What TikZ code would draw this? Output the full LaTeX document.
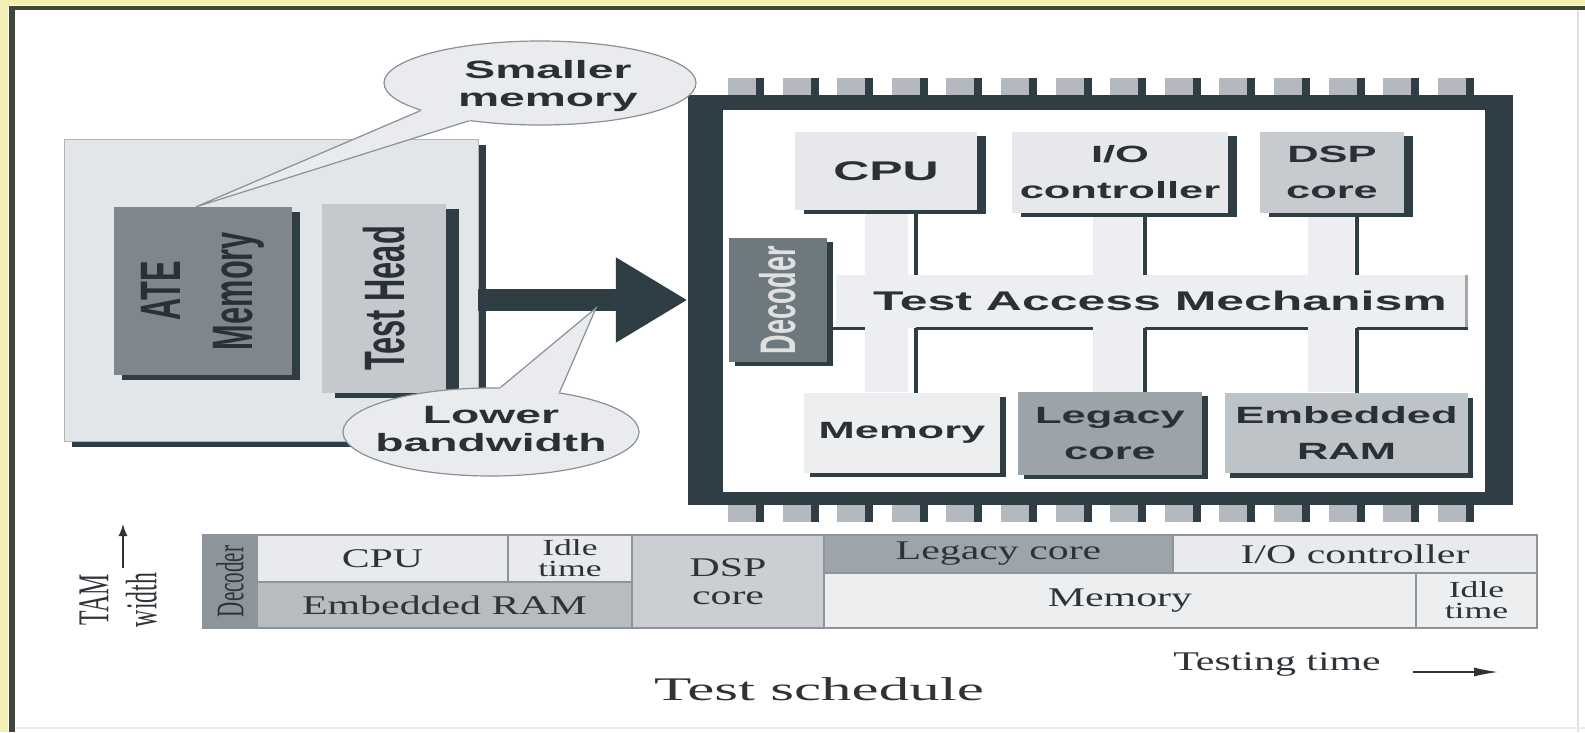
\documentclass[tikz,border=0pt]{standalone}
\usepackage{fontspec}
\setmainfont{Liberation Serif}
\newfontfamily\chipsans[FakeStretch=1.85]{Liberation Sans}
\newfontfamily\rotsans[FakeStretch=0.54]{Liberation Sans}
\newfontfamily\schedserif[FakeStretch=1.55]{Liberation Serif}
\newfontfamily\titleserif[FakeStretch=1.85]{Liberation Serif}
\newfontfamily\rotserif[FakeStretch=0.54]{Liberation Serif}
\usetikzlibrary{shadows,arrows.meta,calc,shapes.geometric}

\definecolor{dkc}{HTML}{2F3E45}
\definecolor{ateback}{HTML}{E3E6E9}
\definecolor{atememc}{HTML}{7E878E}
\definecolor{theadc}{HTML}{C5C9CE}
\definecolor{callfill}{HTML}{E9EBEE}
\definecolor{callline}{HTML}{8A9096}
\definecolor{lightbox}{HTML}{E6E8EB}
\definecolor{dspc}{HTML}{C7CBD0}
\definecolor{decc}{HTML}{6E787F}
\definecolor{legc}{HTML}{9CA3A9}
\definecolor{ramc}{HTML}{BEC3C8}
\definecolor{memc}{HTML}{ECEEF0}
\definecolor{bandc}{HTML}{ECEEF1}
\definecolor{pinc}{HTML}{B3B9BF}
\definecolor{txtc}{HTML}{2A3136}
\definecolor{frameyel}{HTML}{F3F0B5}
\definecolor{framedk}{HTML}{3D473E}
\definecolor{sdecc}{HTML}{8D959C}
\definecolor{slight}{HTML}{E8EAED}
\definecolor{sramc}{HTML}{B7BCC1}
\definecolor{sdspc}{HTML}{CBCFD3}
\definecolor{slegc}{HTML}{9DA4AA}
\definecolor{sborder}{HTML}{8E949A}
\definecolor{stxt}{HTML}{2E3338}

\tikzset{
  blk/.style={inner sep=0pt,text=txtc,align=center,
    font=\chipsans\bfseries\fontsize{23.5}{36}\selectfont},
  shd/.style 2 args={drop shadow={shadow xshift=#1,shadow yshift=-#2,fill=dkc,opacity=1}},
  rotlbl/.style={rotate=90,inner sep=0pt,text=txtc,align=center,
    font=\rotsans\bfseries\fontsize{57}{72}\selectfont},
  band/.style={fill=bandc,inner sep=0pt},
  wire/.style={draw=dkc,line width=4pt},
  callout/.style={ellipse,fill=callfill,draw=callline,line width=1.2pt,inner sep=0pt},
  calltxt/.style={inner sep=0pt,text=txtc,align=center,
    font=\chipsans\bfseries\fontsize{25}{28}\selectfont},
  cell/.style={draw=sborder,line width=1.2pt,inner sep=0pt,text=stxt,align=center,
    font=\schedserif\fontsize{27}{27}\selectfont},
  idle/.style={font=\schedserif\fontsize{23}{21}\selectfont},
}

\begin{document}
\begin{tikzpicture}[x=1pt,y=-1pt]
\useasboundingbox (0,0) rectangle (1585,732);
% frame
\fill[white] (0,0) rectangle (1585,732);
\fill[frameyel] (0,0) rectangle (8,732);
\fill[frameyel] (0,0) rectangle (1585,5);
\fill[framedk] (9,6) rectangle (15,732);
\fill[framedk] (9,6) rectangle (1585,10);
\draw[black!12,line width=2pt] (1578,10) -- (1578,732);
\draw[black!8,line width=2pt] (15,728) -- (1585,728);

% tester
\node(ate) at (271,290)[fill=ateback,draw=black!30,line width=0.8pt,minimum width=414pt,minimum height=302pt,shd={8pt}{6pt}] {};
\node(atemem) at (203,291)[fill=atememc,minimum width=178pt,minimum height=168pt,shd={8pt}{5pt}] {};
\node(atememtxt) at (atemem)[rotlbl] {ATE\\Memory};
\node(thead) at (384,298.5)[fill=theadc,minimum width=124pt,minimum height=189pt,shd={13pt}{5pt}] {};
\node(theadtxt) at (thead)[rotlbl] {Test Head};

% chip
\node(chip) at (1100.5,300)[fill=dkc,minimum width=825pt,minimum height=410pt] {};
\node(die) at (1104,301)[fill=white,minimum width=762pt,minimum height=382pt] {};
\foreach \i in {0,...,13}{
  \fill[pinc] ({728+54.6*\i},78) rectangle +(28,17);
  \fill[dkc] ({756+54.6*\i},78) rectangle +(8,17);
  \fill[pinc] ({728+54.6*\i},505) rectangle +(28,17);
  \fill[dkc] ({756+54.6*\i},505) rectangle +(8,17);
}
\node(bcpu) at (886.5,302)[band,minimum width=43pt,minimum height=180pt] {};
\node(bio) at (1117.5,302)[band,minimum width=49pt,minimum height=180pt] {};
\node(bdsp) at (1331,302)[band,minimum width=46pt,minimum height=180pt] {};
\node(tam) at (1152,301.5)[band,minimum width=632pt,minimum height=53pt] {};
\draw[black!35,line width=3pt] ([xshift=-1.5pt]tam.north east) -- ([xshift=-1.5pt]tam.south east);
\node(tamtxt) at (1160,301)[blk,font=\chipsans\bfseries\fontsize{27}{30}\selectfont] {Test Access Mechanism};

\node(cpu) at (886,171)[blk,fill=lightbox,minimum width=182pt,minimum height=78pt,shd={9pt}{4pt},font=\chipsans\bfseries\fontsize{27}{30}\selectfont] {CPU};
\node(ioc) at (1120,172.5)[blk,fill=lightbox,minimum width=216pt,minimum height=81pt,shd={9pt}{4pt}] {I/O\\controller};
\node(dsp) at (1332,172.5)[blk,fill=dspc,minimum width=144pt,minimum height=81pt,shd={9pt}{4pt}] {DSP\\core};
\node(dec) at (778,300)[fill=decc,minimum width=98pt,minimum height=124pt,shd={6pt}{4pt}] {};
\node(dectxt) at (dec)[rotlbl,text=white!88!black,font=\rotsans\bfseries\fontsize{50}{50}\selectfont] {Decoder};
\node(mem) at (902,433)[blk,fill=memc,minimum width=196pt,minimum height=80pt,shd={6pt}{4pt}] {Memory};
\node(leg) at (1110,433.5)[blk,fill=legc,minimum width=184pt,minimum height=83pt,shd={6pt}{4pt}] {Legacy\\core};
\node(ram) at (1346.5,433)[blk,fill=ramc,minimum width=243pt,minimum height=80pt,shd={5pt}{5pt}] {Embedded\\RAM};

\coordinate(wa) at (916,300);
\coordinate(wb) at (1145,300);
\coordinate(wc) at (1357,300);
\draw[dkc,line width=3pt]
  (tam.south -| dec.east) -- (tam.south -| bcpu.west)
  (tam.south -| wa) -- (tam.south -| bio.west)
  (tam.south -| wb) -- (tam.south -| bdsp.west)
  (tam.south -| wc) -- (tam.south east);
\path[wire]
  (cpu.south -| wa) -- (tam.north -| wa)
  (ioc.south -| wb) -- (tam.north -| wb)
  (dsp.south -| wc) -- (tam.north -| wc)
  (tam.south -| wa) -- (mem.north -| wa)
  (tam.south -| wb) -- (leg.north -| wb)
  (tam.south -| wc) -- (ram.north -| wc);

% link
\draw[dkc,line width=22pt,-{Triangle[length=72pt,width=80pt]}] (ate.east |- chip.west) -- (chip.west);

% callouts
\node(smem) at (540,83)[callout,minimum width=312pt,minimum height=84pt] {};
\fill[callfill] (smem.193) -- ($(smem.193)!0.1!(smem.center)$) -- ($(smem.208)!0.1!(smem.center)$) -- (smem.208) -- ([xshift=-7pt]atemem.north) -- cycle;
\draw[callline,line width=1.2pt] (smem.193) -- ([xshift=-7pt]atemem.north) -- (smem.208);
\node(smemtxt) at ([xshift=8pt,yshift=-3pt]smem.center)[calltxt] {Smaller\\memory};

\coordinate(bwtip) at (596,308);
\node(lbw) at (491,432)[callout,minimum width=296pt,minimum height=88pt] {};
\fill[callfill] (lbw.78) -- ($(lbw.78)!0.1!(lbw.center)$) -- ($(lbw.30)!0.1!(lbw.center)$) -- (lbw.30) -- (bwtip) -- cycle;
\draw[callline,line width=1.2pt] (lbw.78) -- (bwtip) -- (lbw.30);
\node(lbwtxt) at ([yshift=3pt]lbw.center)[calltxt] {Lower\\bandwidth};

% schedule
\node(sdec) at (230,581.5)[cell,fill=sdecc,minimum width=54pt,minimum height=93pt] {};
\node(sdectxt) at (sdec)[rotate=90,inner sep=0pt,text=stxt,font=\rotserif\fontsize{39}{39}\selectfont] {Decoder};
\node(scpu) at (382.5,558.5)[cell,fill=slight,minimum width=251pt,minimum height=47pt] {CPU};
\node(sidle) at (570,558.5)[cell,idle,fill=slight,minimum width=124pt,minimum height=47pt] {Idle\\time};
\node(sram) at (444.5,605)[cell,fill=sramc,minimum width=375pt,minimum height=46pt] {Embedded RAM};
\node(sdsp) at (728,581.5)[cell,fill=sdspc,minimum width=192pt,minimum height=93pt,font=\schedserif\fontsize{27}{28}\selectfont] {DSP\\core};
\node(sleg) at (998.5,554)[cell,fill=slegc,minimum width=349pt,minimum height=38pt] {Legacy core};
\node(sio) at (1355,554)[cell,fill=slight,minimum width=364pt,minimum height=38pt] {I/O controller};
\node(smemo) at (1120,600.5)[cell,fill=memc,minimum width=592pt,minimum height=55pt] {Memory};
\node(sidle2) at (1476.5,600.5)[cell,idle,fill=memc,minimum width=121pt,minimum height=55pt] {Idle\\time};

\node(tamw) at (118,600)[rotate=90,inner sep=0pt,text=stxt,align=center,font=\rotserif\fontsize{44}{48}\selectfont] {TAM\\width};
\coordinate(tamlo) at (123,568);
\coordinate(tamhi) at (123,524);
\draw[stxt,line width=1.5pt,-{Latex[length=12pt,width=9pt]}] (tamlo) -- (tamhi);

\node(ttime) at (1277,664)[inner sep=0pt,text=stxt,font=\schedserif\fontsize{27}{27}\selectfont] {Testing time};
\coordinate(ttbeg) at (1413,672);
\coordinate(ttend) at (1498,672);
\draw[stxt,line width=1.2pt,-{Latex[length=24pt,width=9pt]}] (ttbeg) -- (ttend);
\node(tsched) at (819,689)[inner sep=0pt,text=stxt,font=\titleserif\fontsize{33}{33}\selectfont] {Test schedule};
\end{tikzpicture}
\end{document}
